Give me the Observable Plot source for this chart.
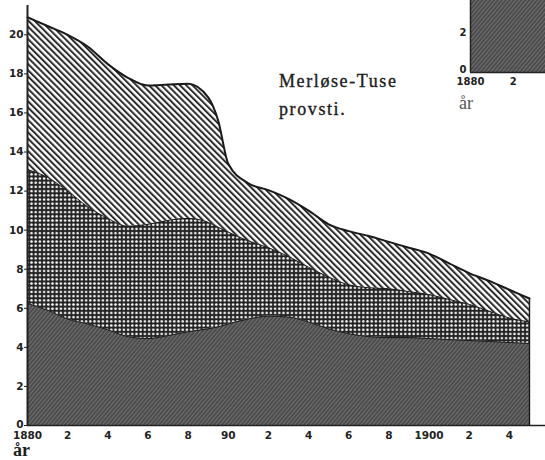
<!DOCTYPE html>
<html>
<head>
<meta charset="utf-8">
<script src="https://cdn.jsdelivr.net/npm/d3@7"></script>
<script src="https://cdn.jsdelivr.net/npm/@observablehq/plot@0.6"></script>
<style>
html, body { margin: 0; padding: 0; background: #fff; }
#wrap { position: relative; width: 545px; height: 460px; overflow: hidden; background: #fff; }
#main { position: absolute; left: 0; top: 0; }
#inset { position: absolute; left: 425px; top: 0; }
.lbl { position: absolute; font-family: "Liberation Serif", serif; color: #1c1c1c; white-space: nowrap; }
.title { font-size: 18px; line-height: 18px; letter-spacing: 1.6px; -webkit-text-stroke: 0.35px #1c1c1c; }
</style>
</head>
<body>
<div id="wrap">
  <div id="main"></div>
  <div id="inset"></div>
  <div class="lbl title" style="left:279px; top:72px;">Merløse-Tuse</div>
  <div class="lbl title" style="left:279px; top:100px;">provsti.</div>
  <div class="lbl" style="left:13px; top:441px; font-size:18px; line-height:18px; font-weight:bold;">år</div>
  <div class="lbl" style="left:459px; top:94px; font-size:18px; line-height:18px; color:#555;">år</div>
</div>
<script>
// ---- data ----
const years = [1880, 1881, 1882, 1883, 1884, 1885, 1886, 1887, 1888, 1889, 1889.5, 1890, 1891, 1892, 1893, 1894, 1895, 1896, 1897, 1898, 1899, 1900, 1901, 1902, 1903, 1904, 1905];
// bottom layer (dark, diagonal streaks)
const darkValues = [6.25, 5.9, 5.45, 5.2, 4.9, 4.55, 4.45, 4.6, 4.8, 4.95, 5.05, 5.2, 5.45, 5.6, 5.55, 5.3, 4.95, 4.7, 4.55, 4.5, 4.5, 4.45, 4.4, 4.35, 4.3, 4.25, 4.2];
// middle layer (dotted crosshatch)
const crossValues = [6.85, 6.8, 6.55, 6.0, 5.7, 5.65, 5.85, 5.9, 5.8, 5.45, 5.1, 4.7, 4.0, 3.5, 3.1, 2.8, 2.65, 2.5, 2.5, 2.5, 2.35, 2.25, 2.05, 1.85, 1.55, 1.25, 1.1];
// top layer (diagonal stripes)
const stripeValues = [7.8, 7.75, 8.0, 8.2, 7.9, 7.6, 7.1, 6.95, 6.9, 6.4, 5.45, 3.5, 2.95, 2.95, 2.95, 2.9, 2.7, 2.75, 2.65, 2.4, 2.25, 2.1, 1.85, 1.6, 1.55, 1.45, 1.2];

const yTicks = [0, 2, 4, 6, 8, 10, 12, 14, 16, 18, 20];
const xTicks = [1880, 1882, 1884, 1886, 1888, 1890, 1892, 1894, 1896, 1898, 1900, 1902, 1904];
const xTickLabels = ["1880", "2", "4", "6", "8", "90", "2", "4", "6", "8", "1900", "2", "4"];

// neighbouring chart (clipped at top-right)
const insetYears = [1880, 1884];
const insetValues = [4.5, 4.5];
const insetYTicks = [0, 2];
const insetXTicks = [1880, 1882];
const insetXTickLabels = ["1880", "2"];

// ---- stacked table ----
const rows = years.map((year, i) => {
  const b = darkValues[i];
  const m = b + crossValues[i];
  const t = m + stripeValues[i];
  return {year, b, m, t};
});
const insetRows = insetYears.map((year, i) => ({year, v: insetValues[i]}));

function addPatterns(svg, prefix) {
  const defs = d3.select(svg).insert("defs", ":first-child");
  const pd = defs.append("pattern").attr("id", prefix + "dark")
    .attr("patternUnits", "userSpaceOnUse").attr("width", 3).attr("height", 3)
    .attr("patternTransform", "rotate(40)");
  pd.append("rect").attr("width", 3).attr("height", 3).attr("fill", "#4b4b4b");
  pd.append("rect").attr("x", 0).attr("width", 0.9).attr("height", 3).attr("fill", "#767676");

  const pc = defs.append("pattern").attr("id", prefix + "cross")
    .attr("patternUnits", "userSpaceOnUse").attr("width", 4.2).attr("height", 4.2);
  pc.append("rect").attr("width", 4.2).attr("height", 4.2).attr("fill", "#242424");
  pc.append("circle").attr("cx", 2.1).attr("cy", 2.1).attr("r", 1.3).attr("fill", "#f4f4f4");

  const ps = defs.append("pattern").attr("id", prefix + "stripe")
    .attr("patternUnits", "userSpaceOnUse").attr("width", 4.4).attr("height", 4.4)
    .attr("patternTransform", "rotate(-45)");
  ps.append("rect").attr("width", 4.4).attr("height", 4.4).attr("fill", "#ffffff");
  ps.append("rect").attr("x", 0).attr("width", 2).attr("height", 4.4).attr("fill", "#2b2b2b");
}

// lift the "0" y-tick label slightly, as in the print
function liftZero(svg, dy) {
  d3.select(svg).selectAll("g[aria-label='y-axis tick label'] text")
    .filter(function() { return this.textContent === "0"; })
    .attr("dy", dy);
}

const curve = "monotone-x";
const ink = "#222";

const main = Plot.plot({
  width: 545,
  height: 460,
  marginLeft: 27,
  marginRight: 0,
  marginTop: 5,
  marginBottom: 35,
  style: {background: "transparent", fontFamily: "DejaVu Sans", fontWeight: "bold", fontSize: "10.5px", color: ink},
  x: {domain: [1880, 1905.8], ticks: xTicks, tickFormat: d => xTickLabels[xTicks.indexOf(d)], tickSize: 0, tickPadding: 6, label: null},
  y: {domain: [0, 21.5], ticks: yTicks, tickFormat: d => String(d), tickSize: 3, tickPadding: 1, label: null},
  marks: [
    Plot.areaY(rows, {x: "year", y1: d => 0, y2: "b", fill: "url(#m-dark)", curve}),
    Plot.areaY(rows, {x: "year", y1: "b", y2: "m", fill: "url(#m-cross)", curve}),
    Plot.areaY(rows, {x: "year", y1: "m", y2: "t", fill: "url(#m-stripe)", curve}),
    Plot.lineY(rows, {x: "year", y: "b", stroke: "#1a1a1a", strokeWidth: 1, curve}),
    Plot.lineY(rows, {x: "year", y: "m", stroke: "#1a1a1a", strokeWidth: 1, curve}),
    Plot.lineY(rows, {x: "year", y: "t", stroke: "#1a1a1a", strokeWidth: 2, curve}),
    Plot.ruleX(rows.slice(-1), {x: "year", y1: d => 0, y2: "t", stroke: "#1a1a1a", strokeWidth: 1.5}),
    Plot.ruleX([1880], {stroke: ink, strokeWidth: 2}),
    Plot.ruleY([0], {stroke: ink, strokeWidth: 1.5})
  ]
});
const mainSvg = main.tagName.toLowerCase() === "svg" ? main : main.querySelector("svg");
addPatterns(mainSvg, "m-");
liftZero(mainSvg, "-0.05em");
document.getElementById("main").appendChild(main);

const inset = Plot.plot({
  width: 120,
  height: 90,
  marginLeft: 45,
  marginRight: 0,
  marginTop: 0,
  marginBottom: 18,
  style: {background: "transparent", fontFamily: "DejaVu Sans", fontWeight: "bold", fontSize: "10px", color: ink},
  x: {domain: [1880, 1883.5], ticks: insetXTicks, tickFormat: d => insetXTickLabels[insetXTicks.indexOf(d)], tickSize: 0, tickPadding: 5, label: null},
  y: {domain: [0, 3.6], ticks: insetYTicks, tickFormat: d => String(d), tickSize: 0, tickPadding: 4, label: null},
  marks: [
    Plot.areaY(insetRows, {x: "year", y1: d => 0, y2: "v", fill: "url(#i-dark)", clip: true}),
    Plot.ruleX([1880], {stroke: ink, strokeWidth: 1.5}),
    Plot.ruleY([0], {stroke: ink, strokeWidth: 1.5})
  ]
});
const insetSvg = inset.tagName.toLowerCase() === "svg" ? inset : inset.querySelector("svg");
addPatterns(insetSvg, "i-");
liftZero(insetSvg, "-0.25em");
document.getElementById("inset").appendChild(inset);
</script>
</body>
</html>
